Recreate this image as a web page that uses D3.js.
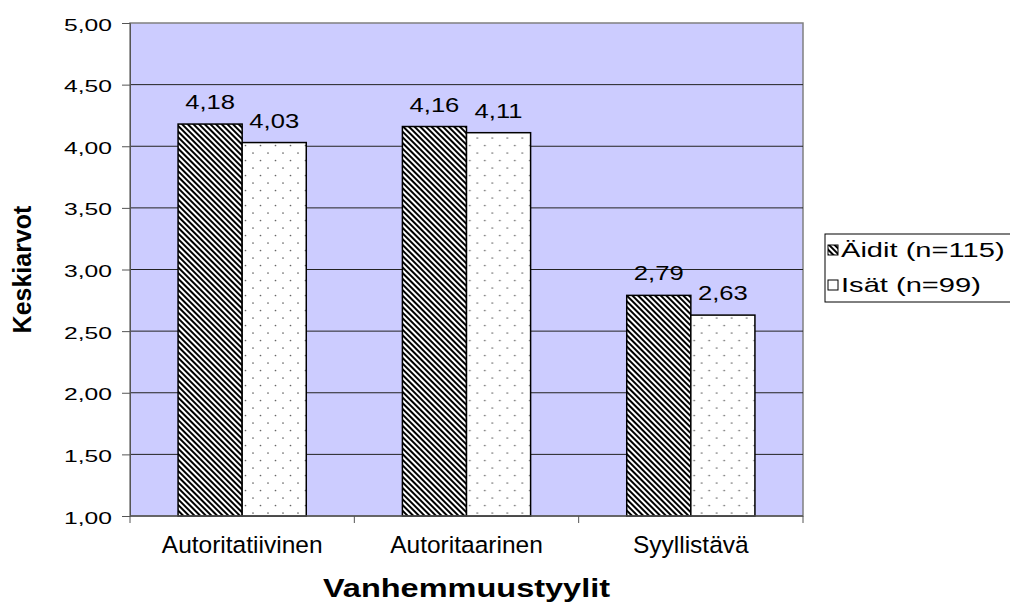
<!DOCTYPE html>
<html>
<head>
<meta charset="utf-8">
<script src="https://d3js.org/d3.v7.min.js"></script>
<style>
  body { margin: 0; background: #fff; }
  text { font-family: "Liberation Sans", Arial, sans-serif; fill: #000; }
</style>
</head>
<body>
<svg></svg>
<script>
const categories = ["Autoritatiivinen", "Autoritaarinen", "Syyllistävä"];
const seriesNames = ["Äidit (n=115)", "Isät (n=99)"];
const aiditValues = [4.18, 4.16, 2.79];
const isatValues = [4.03, 4.11, 2.63];
const yTicks = [1, 1.5, 2, 2.5, 3, 3.5, 4, 4.5, 5];

const width = 1010, height = 603;
const plotL = 130, plotR = 803, plotT = 23, plotB = 516;
const fmt = d => d3.format(".2f")(d).replace(".", ",");

const svg = d3.select("svg").attr("width", width).attr("height", height);
const defs = svg.append("defs");

const hatch = defs.append("pattern")
    .attr("id", "hatch")
    .attr("patternUnits", "userSpaceOnUse")
    .attr("width", 4).attr("height", 4)
    .attr("patternTransform", "rotate(-45)");
hatch.append("rect").attr("width", 4).attr("height", 4).attr("fill", "#fff");
hatch.append("rect").attr("width", 2).attr("height", 4).attr("fill", "#000");

const dots = defs.append("pattern")
    .attr("id", "dots")
    .attr("patternUnits", "userSpaceOnUse")
    .attr("width", 15).attr("height", 15);
dots.append("rect").attr("width", 15).attr("height", 15).attr("fill", "#fff");
dots.append("circle").attr("cx", 3).attr("cy", 3).attr("r", 0.85).attr("fill", "#666");
dots.append("circle").attr("cx", 10.5).attr("cy", 10.5).attr("r", 0.85).attr("fill", "#666");

const x = d3.scaleBand().domain(categories).range([plotL, plotR]);
const xs = d3.scaleBand().domain(seriesNames).range([0, x.bandwidth()]).paddingOuter(0.75).paddingInner(0);
const y = d3.scaleLinear().domain([1, 5]).range([plotB, plotT]);

// text that is a bit wider than the font, like in the source picture
function wideText(sel, tx, ty, sx) {
    return sel.append("text")
        .attr("transform", `translate(${tx},${ty}) scale(${sx},1)`);
}

// plot background
svg.append("rect")
    .attr("x", plotL).attr("y", plotT)
    .attr("width", plotR - plotL).attr("height", plotB - plotT)
    .attr("fill", "#ccccff")
    .attr("stroke", "#808080").attr("stroke-width", 1.5);

// gridlines
svg.append("g").selectAll("line")
    .data(yTicks.filter(d => d > 1 && d < 5))
    .join("line")
    .attr("x1", plotL).attr("x2", plotR)
    .attr("y1", d => y(d)).attr("y2", d => y(d))
    .attr("stroke", "#222").attr("stroke-width", 1);

// y axis
const yAxis = svg.append("g")
    .attr("transform", `translate(${plotL},0)`)
    .call(d3.axisLeft(y).tickValues(yTicks).tickSize(8).tickFormat(""));
yAxis.select(".domain").attr("stroke", "#555");
yAxis.selectAll(".tick line").attr("stroke", "#555");
yTicks.forEach(t => {
    wideText(svg, 112, y(t) + 7.6, 1.45)
        .attr("text-anchor", "end")
        .attr("font-size", 17)
        .text(fmt(t));
});

// bars
const groups = svg.append("g").selectAll("g")
    .data(categories)
    .join("g")
    .attr("transform", d => `translate(${x(d)},0)`);

const seriesData = (c, i) => [
    { s: seriesNames[0], v: aiditValues[i], fill: "url(#hatch)" },
    { s: seriesNames[1], v: isatValues[i], fill: "url(#dots)" }
];

groups.selectAll("rect")
    .data((c, i) => seriesData(c, i))
    .join("rect")
    .attr("x", d => xs(d.s))
    .attr("width", xs.bandwidth())
    .attr("y", d => y(d.v))
    .attr("height", d => y(1) - y(d.v))
    .attr("fill", d => d.fill)
    .attr("stroke", "#000").attr("stroke-width", 1.5);

groups.each(function (c, i) {
    const g = d3.select(this);
    seriesData(c, i).forEach(d => {
        wideText(g, xs(d.s) + xs.bandwidth() / 2, y(d.v) - 15, 1.22)
            .attr("text-anchor", "middle")
            .attr("font-size", 21)
            .text(fmt(d.v));
    });
});

// x axis
const xAxis = svg.append("g")
    .attr("transform", `translate(0,${plotB})`);
xAxis.append("line")
    .attr("x1", plotL).attr("x2", plotR).attr("y1", 0).attr("y2", 0)
    .attr("stroke", "#555").attr("stroke-width", 1.5);
xAxis.selectAll("line.tk")
    .data(categories.map(c => x(c)).concat([plotR]))
    .join("line")
    .attr("class", "tk")
    .attr("x1", d => d).attr("x2", d => d)
    .attr("y1", 0).attr("y2", 7)
    .attr("stroke", "#555");
xAxis.selectAll("text")
    .data(categories)
    .join("text")
    .attr("x", d => x(d) + x.bandwidth() / 2)
    .attr("y", 37)
    .attr("text-anchor", "middle")
    .attr("font-size", 24.5)
    .text(d => d);

// axis titles
wideText(svg, (plotL + plotR) / 2, 597, 1.3)
    .attr("text-anchor", "middle")
    .attr("font-size", 25).attr("font-weight", "bold")
    .text("Vanhemmuustyylit");

svg.append("text")
    .attr("transform", `translate(31,${(plotT + plotB) / 2}) rotate(-90)`)
    .attr("text-anchor", "middle")
    .attr("font-size", 25).attr("font-weight", "bold")
    .text("Keskiarvot");

// legend
const legend = svg.append("g");
legend.append("rect")
    .attr("x", 825).attr("y", 234)
    .attr("width", 190).attr("height", 68)
    .attr("fill", "#fff").attr("stroke", "#000").attr("stroke-width", 1);
const legendItems = [{ s: seriesNames[0], fill: "url(#hatch)" }, { s: seriesNames[1], fill: "#fff" }];
legendItems.forEach((d, i) => {
    const by = 257 + i * 35;
    legend.append("rect")
        .attr("x", 828).attr("y", by - 12)
        .attr("width", 10).attr("height", 10)
        .attr("fill", d.fill)
        .attr("stroke", "#000").attr("stroke-width", 1);
    wideText(legend, 841, by, 1.42)
        .attr("font-size", 20.5)
        .text(d.s);
});
</script>
</body>
</html>
